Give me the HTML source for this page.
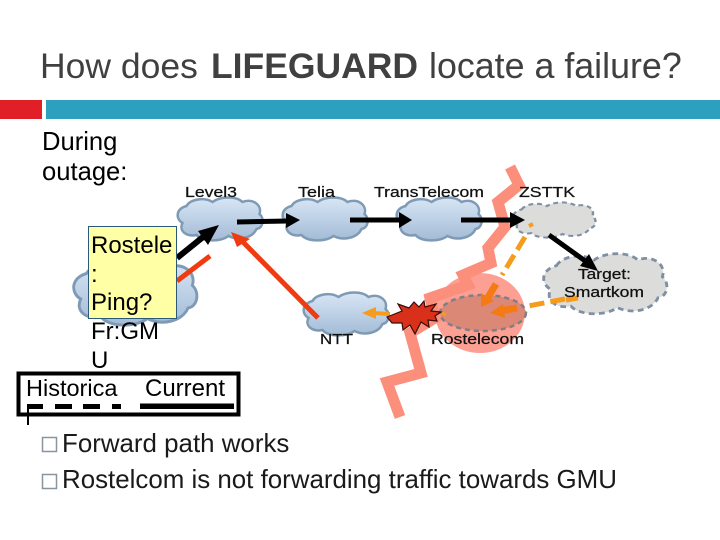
<!DOCTYPE html>
<html><head><meta charset="utf-8"><style>
html,body{margin:0;padding:0;background:#fff}
svg{display:block}
text{font-family:"Liberation Sans",sans-serif}
</style></head><body>
<svg width="720" height="540" viewBox="0 0 720 540" xmlns="http://www.w3.org/2000/svg">
<defs>
<linearGradient id="b" x1="0" y1="0" x2="0" y2="1"><stop offset="0" stop-color="#d8e6f5"/><stop offset="1" stop-color="#a3bbd6"/></linearGradient>
<path id="cloud" d="M10 9 C14 2 28 0 36 5 C44 -1 60 -1 66 5 C76 1 86 8 83 17 C88 21 87 31 80 32 C76 41 62 44 52 39 C44 45 26 45 20 38 C10 40 2 34 6 26 C-1 22 -1 12 10 9 Z"/>
</defs>

<text y="78" font-size="35.5" fill="#404040"><tspan x="40">How does</tspan><tspan x="211" font-weight="bold">LIFEGUARD</tspan><tspan x="429" font-size="35.800">locate a failure?</tspan></text>
<rect x="0" y="100" width="42" height="19" fill="#e01f26"/>
<rect x="46" y="100" width="674" height="19" fill="#2ca0be"/>
<text x="42" y="150" font-size="25.6" fill="#000">During</text>
<text x="42" y="180" font-size="25.6" fill="#000">outage:</text>

<!-- Clouds -->
<use href="#cloud" transform="translate(176.500,197)" fill="url(#b)" stroke="#7f9ab5" stroke-width="2.5"/>
<use href="#cloud" transform="translate(281.500,197)" fill="url(#b)" stroke="#7f9ab5" stroke-width="2.5"/>
<use href="#cloud" transform="translate(395.500,197)" fill="url(#b)" stroke="#7f9ab5" stroke-width="2.5"/>
<use href="#cloud" transform="translate(302.500,292)" fill="url(#b)" stroke="#7f9ab5" stroke-width="2.5"/>
<use href="#cloud" transform="translate(72,260) scale(1.45,1.5)" fill="url(#b)" stroke="#7f9ab5" stroke-width="2"/>
<use href="#cloud" transform="translate(512,202) scale(.97,.82)" fill="#dcdcda" stroke="#7f90a5" stroke-width="2.5" stroke-dasharray="5 4"/>
<use href="#cloud" transform="translate(542,253) scale(1.45,1.4)" fill="#dcdcda" stroke="#7f90a5" stroke-width="2" stroke-dasharray="4 3"/>

<!-- Rostelecom circle -->
<ellipse cx="480" cy="313" rx="45" ry="40" fill="#fda093"/>

<!-- Lightning -->
<polyline points="510,167 519,185 498,202 505,227 488,248 491,263 463,275 468,285 430,298 435,318 410,333 421,373 387,382 400,417" fill="none" stroke="#fc8e7c" stroke-width="11" stroke-linejoin="miter"/>

<ellipse cx="483" cy="313" rx="43" ry="18" fill="#db8877" stroke="#7f7f85" stroke-width="2.5" stroke-dasharray="5 4"/>

<!-- Orange dashed -->
<line x1="533" y1="224" x2="529" y2="226" stroke="#f59c1d" stroke-width="4"/>
<line x1="525" y1="237" x2="502" y2="275" stroke="#f59c1d" stroke-width="5" stroke-dasharray="15 6"/>
<line x1="565" y1="299" x2="528" y2="306" stroke="#f59c1d" stroke-width="5" stroke-dasharray="15 6"/>
<line x1="578" y1="298" x2="566" y2="300" stroke="#f59c1d" stroke-width="5"/>
<line x1="496" y1="284" x2="487" y2="299" stroke="#f47a14" stroke-width="7"/>
<polygon points="481,307 481,293 494,301" fill="#f47a14"/>
<line x1="517" y1="308" x2="500" y2="311" stroke="#f47a14" stroke-width="7"/>
<polygon points="490,313 503,304 505,318" fill="#f47a14"/>
<line x1="390" y1="314" x2="372" y2="313" stroke="#f59c1d" stroke-width="4"/>
<polygon points="362,313 376,307 376,319" fill="#f59c1d"/>
<line x1="442" y1="313" x2="446" y2="315" stroke="#f59c1d" stroke-width="3"/>

<!-- Explosion -->
<polygon points="387,317 402,311 398,304 409,308 414,302 419,307 424,301 425,307 436,304 431,311 441,312 435,316 437,321 428,320 429,327 421,322 415,334 410,325 403,330 402,323 392,323" fill="#d8301a" stroke="#3a0c08" stroke-width="1.2"/>

<!-- Black arrows -->
<g stroke="#000" stroke-width="5" fill="#000">
<line x1="237" y1="222" x2="288" y2="221"/>
<polygon points="300,220 286,213 286,228" stroke="none"/>
<line x1="350" y1="220" x2="402" y2="220"/>
<polygon points="412,220 399,212 399,228" stroke="none"/>
<line x1="461" y1="220" x2="512" y2="220"/>
<polygon points="525,220 510,212 510,228" stroke="none"/>
<line x1="549" y1="235" x2="588" y2="263"/>
<polygon points="598,271 580,266 589,254" stroke="none"/>
</g>
<line x1="177" y1="258" x2="208" y2="233" stroke="#000" stroke-width="6"/>
<polygon points="219,225 198,231 208,245" fill="#000"/>

<!-- Red lines -->
<line x1="177" y1="281" x2="210" y2="256" stroke="#f03a10" stroke-width="5"/>
<line x1="318" y1="318" x2="242" y2="241" stroke="#f03a10" stroke-width="5"/>
<polygon points="231,232 250,239 237,247" fill="#f03a10"/>

<!-- Diagram labels -->
<g fill="#111" font-size="14.5" stroke="#111" stroke-width=".25">
<text x="185" y="197" textLength="52" lengthAdjust="spacingAndGlyphs">Level3</text>
<text x="298" y="197" textLength="37" lengthAdjust="spacingAndGlyphs">Telia</text>
<text x="374" y="197" textLength="110" lengthAdjust="spacingAndGlyphs">TransTelecom</text>
<text x="519" y="197" textLength="56" lengthAdjust="spacingAndGlyphs">ZSTTK</text>
<text x="320" y="344" textLength="33" lengthAdjust="spacingAndGlyphs">NTT</text>
<text x="431" y="344" textLength="93" lengthAdjust="spacingAndGlyphs">Rostelecom</text>
<text x="578" y="279" textLength="53" lengthAdjust="spacingAndGlyphs">Target:</text>
<text x="564" y="297" textLength="80" lengthAdjust="spacingAndGlyphs">Smartkom</text>
</g>

<!-- Callout -->
<rect x="88.500" y="226.500" width="88" height="92" fill="#ffffa6" stroke="#2a5a78" stroke-width="1"/>
<g font-size="24" fill="#000">
<text x="91" y="253">Rostele</text>
<text x="91" y="282">:</text>
<text x="91" y="310">Ping?</text>
<text x="91" y="339">Fr:GM</text>
<text x="91" y="368">U</text>
</g>

<!-- Legend -->
<rect x="18.500" y="373.500" width="220" height="41" fill="none" stroke="#000" stroke-width="4"/>
<text x="26" y="396" font-size="23.500" fill="#000">Historica</text>
<text x="145" y="396" font-size="24" fill="#000">Current</text>
<g fill="#000">
<rect x="27" y="404" width="16" height="5"/>
<rect x="55" y="404" width="17" height="5"/>
<rect x="83" y="404" width="17" height="5"/>
<rect x="112" y="404" width="9" height="5"/>
<rect x="140" y="403.500" width="94" height="5.500"/>
<rect x="27" y="404" width="2" height="21"/>
</g>

<!-- Bullets -->
<rect x="42.500" y="437.500" width="14" height="14" fill="none" stroke="#8a94a0" stroke-width="1.500"/>
<rect x="42.500" y="474.500" width="14" height="14" fill="none" stroke="#8a94a0" stroke-width="1.500"/>
<text x="62" y="452" font-size="25.900" fill="#1a1a1a">Forward path works</text>
<text x="62" y="488" font-size="25.900" fill="#1a1a1a">Rostelcom is not forwarding traffic towards GMU</text>
</svg>
</body></html>
